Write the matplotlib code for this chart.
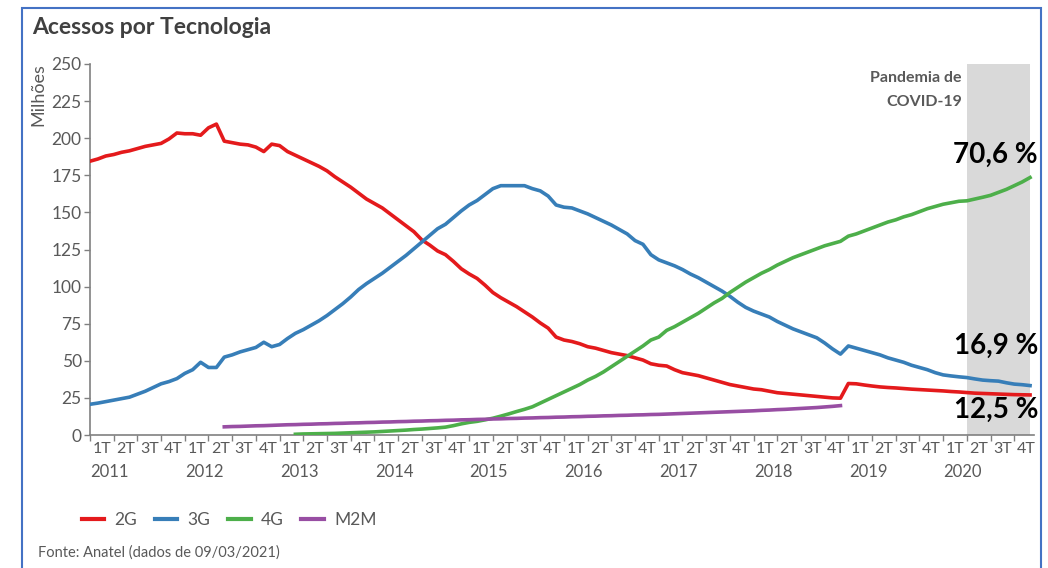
import numpy as np
import matplotlib
matplotlib.use("Agg")
import matplotlib.pyplot as plt
from matplotlib.lines import Line2D
from matplotlib.patches import Rectangle

plt.rcParams['font.family'] = ['Lato', 'DejaVu Sans']

# monthly values, jan/2011 .. dez/2020 (milhoes de acessos)
acc_2g = [184.5, 186, 188, 189, 190.5, 191.5, 193, 194.5, 195.5, 196.5, 199.5, 203.5,
          203, 203, 202, 207, 209.5, 198, 197, 196, 195.5, 194, 191, 196,
          195, 191, 188.5, 186, 183.5, 181, 178, 174, 170.5, 167, 163, 159,
          156, 153, 149, 145, 141, 137, 131.5, 128, 124, 121.5, 117, 112,
          108.5, 105.5, 101, 96, 92.5, 89.5, 86.5, 83, 79.5, 75.5, 72, 66,
          64, 63, 61.5, 59.5, 58.5, 57, 55.5, 54.5, 53.5, 52, 50.5, 48,
          47, 46.5, 44, 42, 41, 40, 38.5, 37, 35.5, 34, 33, 32,
          31, 30.5, 29.5, 28.5, 28, 27.5, 27, 26.5, 26, 25.5, 25, 24.8,
          34.7, 34.5, 33.7, 33, 32.4, 32, 31.7, 31.3, 30.9, 30.6, 30.3, 30,
          29.7, 29.3, 29, 28.6, 28.2, 28, 27.8, 27.6, 27.4, 27.2, 27.1, 27]

acc_3g = [20.7, 21.5, 22.5, 23.5, 24.5, 25.5, 27.5, 29.5, 32, 34.5, 36, 38,
          41.5, 44, 49, 45.5, 45.5, 52.5, 54, 56, 57.5, 59, 62.5, 59.5,
          61, 65, 68.5, 71, 74, 77, 80.5, 84.5, 88.5, 93, 98, 102,
          105.5, 109, 113, 117, 121, 125.5, 130, 134.5, 139, 142, 146.5, 151,
          155, 158, 162, 166, 168, 168, 168, 168, 166, 164.5, 161, 155,
          153.5, 153, 151, 149, 146.5, 144, 141.5, 138.5, 135.5, 131, 128.5, 121.5,
          118, 116, 114, 111.5, 108.5, 106, 103, 100, 97, 93.5, 89.5, 86,
          83.5, 81.5, 79.5, 76.5, 74, 71.5, 69.5, 67.5, 65.5, 62, 58, 54.5,
          60, 58.5, 57, 55.5, 54, 52, 50.5, 49, 47, 45.5, 44, 42,
          40.5, 39.8, 39.2, 38.7, 37.8, 37, 36.6, 36.3, 35.2, 34.3, 33.9, 33.3]

nan = float('nan')
acc_4g = [nan] * 26 + [
          0.5, 0.7, 0.8, 0.9, 1.0, 1.1, 1.3, 1.5, 1.7, 1.9,
          2.1, 2.4, 2.7, 3.0, 3.3, 3.7, 4.0, 4.4, 4.8, 5.3, 6.3, 7.5,
          8.5, 9.2, 10.2, 11.3, 12.7, 14.2, 15.8, 17.3, 19, 21.5, 24, 26.5,
          29, 31.5, 34, 37, 39.5, 42.5, 46, 49.5, 53, 56.5, 60, 64,
          66, 70.5, 73, 76, 79, 82, 85.5, 89, 92, 96, 99.5, 103,
          106, 109, 111.5, 114.5, 117, 119.5, 121.5, 123.5, 125.5, 127.5, 129, 130.5,
          134, 135.5, 137.5, 139.5, 141.5, 143.5, 145, 147, 148.5, 150.5, 152.5, 154,
          155.5, 156.5, 157.5, 157.8, 159, 160.2, 161.5, 163.5, 165.5, 168, 170.5, 173.5]

acc_m2m = [nan] * 17 + [
          5.5, 5.7, 5.8, 6.0, 6.2, 6.3, 6.5,
          6.7, 6.9, 7.0, 7.2, 7.3, 7.5, 7.6, 7.8, 7.9, 8.1, 8.2, 8.4,
          8.5, 8.7, 8.8, 9.0, 9.1, 9.3, 9.4, 9.6, 9.7, 9.9, 10.0, 10.2,
          10.3, 10.5, 10.6, 10.8, 10.9, 11.1, 11.2, 11.4, 11.5, 11.7, 11.8, 12.0,
          12.1, 12.3, 12.4, 12.6, 12.7, 12.9, 13.0, 13.2, 13.3, 13.5, 13.6, 13.8,
          13.9, 14.1, 14.3, 14.5, 14.7, 14.9, 15.1, 15.3, 15.5, 15.7, 15.9, 16.1,
          16.3, 16.6, 16.8, 17.1, 17.3, 17.6, 17.9, 18.2, 18.5, 18.9, 19.3, 19.8] + [nan] * 24

series = ['2G', '3G', '4G', 'M2M']
colors = ['#e41a1c', '#377eb8', '#4daf4a', '#984ea3']
anos = ['2011', '2012', '2013', '2014', '2015', '2016', '2017', '2018', '2019', '2020']
trimestres = ['1T', '2T', '3T', '4T']
shares = ['70,6 %', '16,9 %', '12,5 %']
covid_start = 111  # abr/2020

gray = '#595959'
fig = plt.figure(figsize=(10.48, 5.68), dpi=100)
ax = fig.add_axes([90 / 1048, 1 - 435 / 568, 944 / 1048, 371 / 568])

x = np.arange(len(acc_2g))
ax.add_patch(Rectangle((covid_start, 0), len(x) - 1 - covid_start, 250,
                       facecolor='#d9d9d9', edgecolor='none', zorder=0))
for vals, c, name in zip([acc_2g, acc_3g, acc_4g, acc_m2m], colors, series):
    ax.plot(x, vals, color=c, lw=2.6, label=name, solid_joinstyle='round', zorder=3)

ax.set_xlim(0, 119.5)
ax.set_ylim(0, 250)
ax.set_yticks(np.arange(0, 251, 25))
ax.tick_params(axis='y', labelsize=12.5, colors='#808080', length=4, width=1, pad=2)
ax.tick_params(axis='y', labelcolor=gray)
ax.set_xticks(np.arange(0, 120, 3))
ax.set_xticklabels([])
ax.tick_params(axis='x', length=4, width=1, colors='#808080')
for s in ['top', 'right']:
    ax.spines[s].set_visible(False)
for s in ['left', 'bottom']:
    ax.spines[s].set_color('#808080')
    ax.spines[s].set_linewidth(1.2)

trans = ax.get_xaxis_transform()
for q in range(40):
    ax.text(3 * q + 1.5, -0.018, trimestres[q % 4], transform=trans, ha='center',
            va='top', fontsize=11.5, color=gray)
for i, a in enumerate(anos):
    ax.text(12 * i + 2.5, -0.078, a, transform=trans, ha='center', va='top',
            fontsize=12, color=gray)

fig.text(962 / 1048, 1 - 78 / 568, 'Pandemia de', ha='right', va='center',
         fontsize=11.5, fontweight='bold', color=gray)
fig.text(962 / 1048, 1 - 102 / 568, 'COVID-19', ha='right', va='center',
         fontsize=11.5, fontweight='bold', color=gray)
for txt, yy in zip(shares, [155, 346, 410]):
    fig.text(1038 / 1048, 1 - yy / 568, txt, ha='right', va='center',
             fontsize=20, fontweight='bold', color='black')

fig.text(32 / 1048, 1 - 27 / 568, 'Acessos por Tecnologia', ha='left', va='center',
         fontsize=16.5, fontweight='bold', color='#404040')
fig.text(38 / 1048, 1 - 95 / 568, 'Milhões', rotation=90, ha='center', va='center',
         fontsize=13, color=gray)
fig.text(38 / 1048, 1 - 553 / 568, 'Fonte: Anatel (dados de 09/03/2021)', ha='left',
         va='center', fontsize=10.5, color=gray)

handles = [Line2D([0], [0], color=c, lw=3) for c in colors]
leg = fig.legend(handles, series, loc='center left', bbox_to_anchor=(66 / 1048, 1 - 520 / 568),
                 ncol=4, frameon=False, fontsize=12.5, handlelength=1.3,
                 columnspacing=1.0, handletextpad=0.6)
for t in leg.get_texts():
    t.set_color(gray)

# moldura azul
fig.add_artist(Rectangle((22 / 1048, -0.02), (1041 - 22) / 1048, 1.02 - 8 / 568,
                         transform=fig.transFigure, fill=False, edgecolor='#4472c4', lw=1.5))

fig.savefig('out.png', dpi=100)
